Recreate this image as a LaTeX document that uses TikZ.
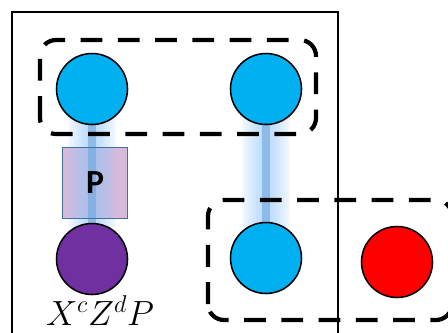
\documentclass[tikz,border=0pt]{standalone}
\usepackage{xcolor}
\usepackage{tikz}
\usepackage{fontspec}
\newfontfamily\gatefont{Carlito}
\usetikzlibrary{positioning, calc}
\definecolor{qubitblue}{RGB}{0, 176, 240}
\definecolor{qubitpurple}{RGB}{112, 48, 160}
\definecolor{qubitred}{RGB}{255, 0, 0}
\definecolor{glowblue}{RGB}{150, 200, 250}
\definecolor{linkblue}{RGB}{110, 165, 220}
\definecolor{gatefill}{RGB}{213, 186, 220}
\definecolor{gateedge}{RGB}{65, 113, 156}
\pgfdeclarelayer{back}
\pgfdeclarelayer{glow}
\pgfsetlayers{back,glow,main}

\begin{document}
\begin{tikzpicture}[
    qubit/.style={circle, draw=black, line width=1.1pt, minimum size=1.775cm, inner sep=0pt},
    group/.style={draw=black, line width=3pt, dash pattern=on 15.5pt off 11pt, rounded corners=0.4cm}
  ]
            \clip (0,0) rectangle (11.2,8.3);
            \useasboundingbox (0,0) rectangle (11.2,8.3);
            % frame
            \draw[line width=1.1pt] (0.3,-0.5) rectangle (8.45,8.0);
            % qubits
            \node[qubit, fill=qubitblue] (ta) at (2.3,6.075) {};
            \node[qubit, fill=qubitblue] (tb) at (6.65,6.075) {};
            \node[qubit, fill=qubitpurple] (pc) at (2.3,1.825) {};
            \node[qubit, fill=qubitblue] (bb) at (6.65,1.85) {};
            \node[qubit, fill=qubitred] (rc) at (9.925,1.75) {};
            % gate
            \node[draw=gateedge, line width=1pt, minimum width=1.635cm, minimum height=1.765cm,
                  inner sep=0pt, font=\gatefont\fontsize{24}{28}\selectfont\bfseries] (gate) at (2.375,3.725) {P};
            \begin{pgfonlayer}{back}
                \fill[gatefill] (gate.south west) rectangle (gate.north east);
            \end{pgfonlayer}
            % links
            \begin{pgfonlayer}{glow}
                \foreach \w in {0.6,0.54,...,0.1} {
                    \fill[glowblue, opacity=0.1] ($(ta.center)+(-\w,0)$) rectangle ($(pc.center)+(\w,0)$);
                    \fill[glowblue, opacity=0.1] ($(tb.center)+(-\w,0)$) rectangle ($(bb.center)+(\w,0)$);
                }
                \fill[linkblue, opacity=0.6] ($(ta.center)+(-0.11,0)$) rectangle ($(pc.center)+(0.11,0)$);
                \fill[linkblue, opacity=0.6] ($(tb.center)+(-0.11,0)$) rectangle ($(bb.center)+(0.11,0)$);
            \end{pgfonlayer}
            % groups
            \draw[group] (1.0,4.95) rectangle (7.9,7.3);
            \draw[group] (5.2,0.3) rectangle (11.3,3.3);
            % label
            \node[anchor=base, inner sep=0pt, font=\fontsize{27}{32}\selectfont] (lbl) at ($(pc.south)+(0.2,-0.76)$) {$X^cZ^dP$};
        \end{tikzpicture}
\end{document}
